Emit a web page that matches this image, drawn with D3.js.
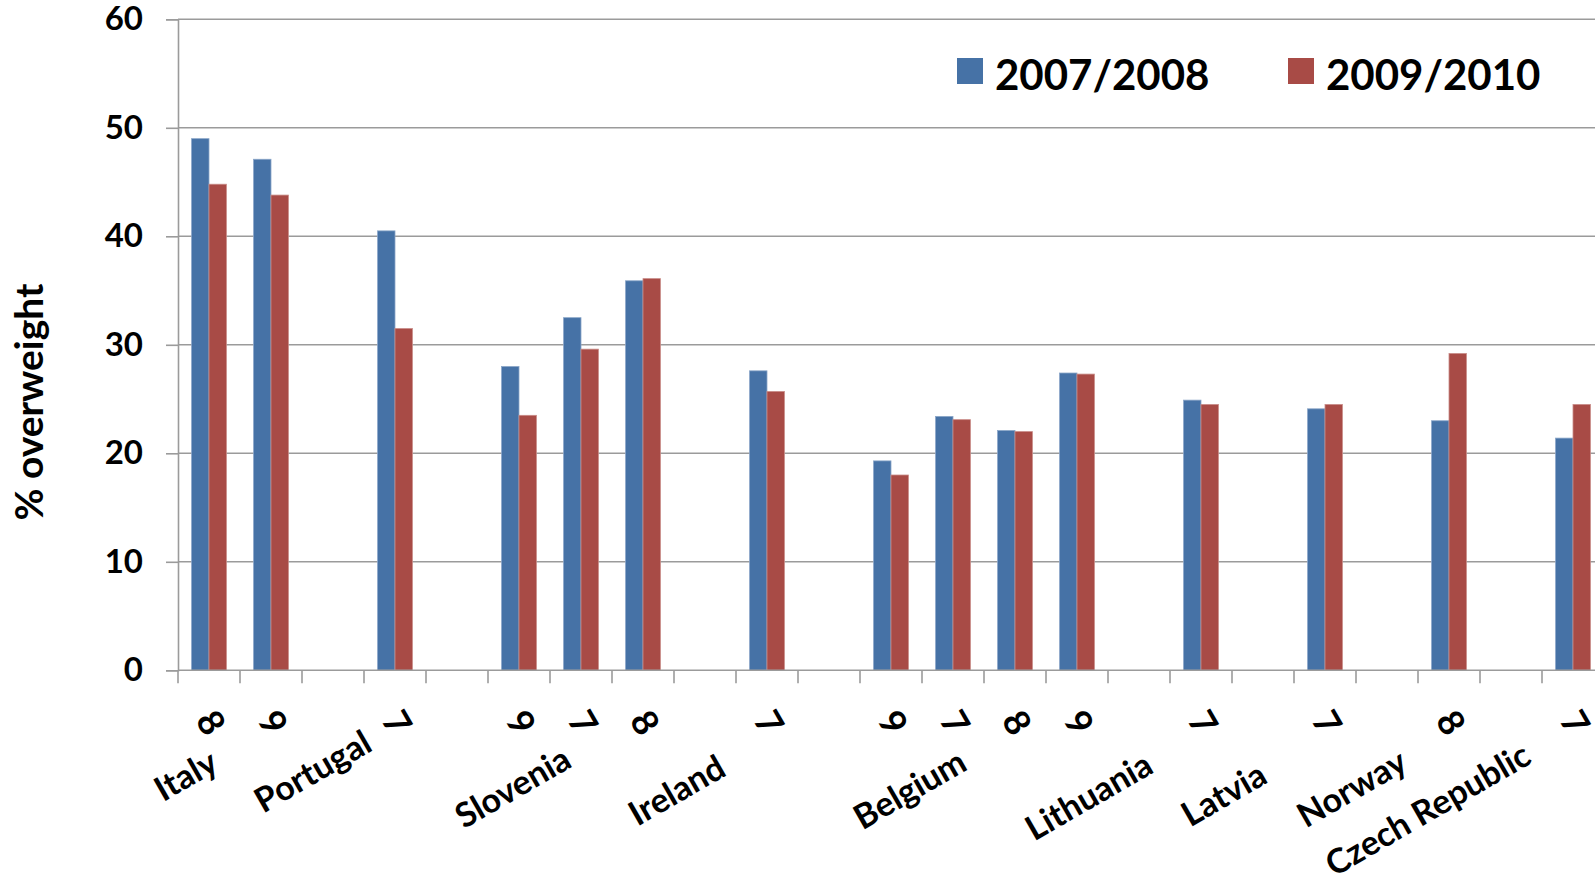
<!DOCTYPE html>
<html>
<head>
<meta charset="utf-8">
<script src="https://cdn.jsdelivr.net/npm/d3@7"></script>
<style>
    body { margin: 0; background: #fff; }
    svg { display: block; font-family: Lato, "Open Sans", sans-serif; font-weight: bold; }
</style>
</head>
<body>
<svg id="chart" width="1595" height="877"></svg>
<script>
const series = ['2007/2008', '2009/2010']
const colors = ['#4672a6', '#a84b46']

// one slot per category position, empty strings are the gaps
const slotLabels = ['8', '9', '', '7', '', '9', '7', '8', '', '7', '', '9', '7', '8', '9', '', '7', '', '7', '', '8', '', '7']
const values0708 = [49.0, 47.1, null, 40.5, null, 28.0, 32.5, 35.9, null, 27.6, null, 19.3, 23.4, 22.1, 27.4, null, 24.9, null, 24.1, null, 23.0, null, 21.4]
const values0910 = [44.8, 43.8, null, 31.5, null, 23.5, 29.6, 36.1, null, 25.7, null, 18.0, 23.1, 22.0, 27.3, null, 24.5, null, 24.5, null, 29.2, null, 24.5]

const countries = ['Italy', 'Portugal', 'Slovenia', 'Ireland', 'Belgium', 'Lithuania', 'Latvia', 'Norway', 'Czech Republic']
const countrySlots = [0, 2, 4, 8, 10, 15, 17, 19, 21]

const yTicks = [0, 10, 20, 30, 40, 50, 60]

// label nudges relative to slot centre (layout only)
const countryOffsets = [[-24, 774], [-21, 770], [55, 786], [-29, 789], [80, 788], [-51, 795], [-40, 793], [-36, 787], [-84, 808]]

const svg = d3.select('#chart')
const plotLeft = 178, plotRight = 1604, plotTop = 19.3, plotBottom = 670.3

const x = d3.scaleBand()
    .domain(d3.range(slotLabels.length))
    .range([plotLeft, plotRight])
    .padding(0)

const xInner = d3.scaleBand()
    .domain(series)
    .range([0, x.bandwidth()])
    .paddingInner(0)
    .paddingOuter(0.78)

const y = d3.scaleLinear()
    .domain([0, 60])
    .range([plotBottom, plotTop])

const grid = svg.append('g')
grid.selectAll('line')
    .data(yTicks.filter(d => d > 0))
    .join('line')
    .attr('x1', plotLeft).attr('x2', 1595)
    .attr('y1', d => y(d)).attr('y2', d => y(d))
    .attr('stroke', '#9b9b9b')
    .attr('stroke-width', 1.6)

const rows = slotLabels.map((label, i) => ({ i, label, v: [values0708[i], values0910[i]] }))

svg.append('g')
    .selectAll('g')
    .data(rows.filter(d => d.v[0] != null))
    .join('g')
    .attr('transform', d => `translate(${x(d.i)},0)`)
    .selectAll('rect')
    .data(d => d.v.map((v, k) => ({ v, k })))
    .join('rect')
    .attr('x', d => xInner(series[d.k]))
    .attr('width', xInner.bandwidth())
    .attr('y', d => y(d.v))
    .attr('height', d => y(0) - y(d.v))
    .attr('fill', d => colors[d.k])
    .attr('stroke', d => d.k === 0 ? '#8aa6c8' : '#c98c88')
    .attr('stroke-width', 0.8)

// y axis
const yAxis = svg.append('g')
    .attr('transform', `translate(${plotLeft},0)`)
    .call(d3.axisLeft(y).tickValues(yTicks).tickSize(12).tickPadding(23))
yAxis.select('.domain').attr('stroke', '#9b9b9b').attr('stroke-width', 1.6)
yAxis.selectAll('.tick line').attr('stroke', '#9b9b9b').attr('stroke-width', 1.6)
yAxis.selectAll('.tick text')
    .attr('fill', '#000')
    .style('font-size', '33px')
    .style('font-family', 'Lato, sans-serif')
    .style('font-weight', 'bold')

// x axis: line with ticks on slot boundaries
const xAxis = svg.append('g')
xAxis.append('line')
    .attr('x1', plotLeft).attr('x2', 1595)
    .attr('y1', y(0)).attr('y2', y(0))
    .attr('stroke', '#9b9b9b').attr('stroke-width', 1.6)
xAxis.selectAll('.xtick')
    .data(d3.range(slotLabels.length + 1))
    .join('line')
    .attr('class', 'xtick')
    .attr('x1', i => plotLeft + i * x.step()).attr('x2', i => plotLeft + i * x.step())
    .attr('y1', y(0)).attr('y2', y(0) + 13)
    .attr('stroke', '#9b9b9b').attr('stroke-width', 1.6)

const center = i => x(i) + x.bandwidth() / 2

svg.append('g')
    .selectAll('text')
    .data(rows.filter(d => d.label !== ''))
    .join('text')
    .attr('transform', d => `translate(${center(d.i) + 3},722) rotate(60)`)
    .attr('text-anchor', 'middle')
    .attr('dominant-baseline', 'central')
    .style('font-size', '36px')
    .text(d => d.label)

svg.append('g')
    .selectAll('text')
    .data(countries)
    .join('text')
    .attr('transform', (d, k) => `translate(${center(countrySlots[k]) + countryOffsets[k][0]},${countryOffsets[k][1]}) rotate(-30)`)
    .attr('text-anchor', 'middle')
    .attr('dominant-baseline', 'central')
    .style('font-size', '34px')
    .text(d => d)

svg.append('text')
    .attr('transform', 'translate(28,402) rotate(-90)')
    .attr('text-anchor', 'middle')
    .attr('dominant-baseline', 'central')
    .style('font-size', '39px')
    .text('% overweight')

const legend = svg.append('g')
    .selectAll('g')
    .data(series)
    .join('g')
    .attr('transform', (d, k) => `translate(${957 + k * 331},58)`)

legend.append('rect')
    .attr('width', 26).attr('height', 26)
    .attr('fill', (d, k) => colors[k])

legend.append('text')
    .attr('x', 38).attr('y', 16)
    .attr('dominant-baseline', 'central')
    .style('font-size', '42px')
    .text(d => d)
</script>
</body>
</html>
